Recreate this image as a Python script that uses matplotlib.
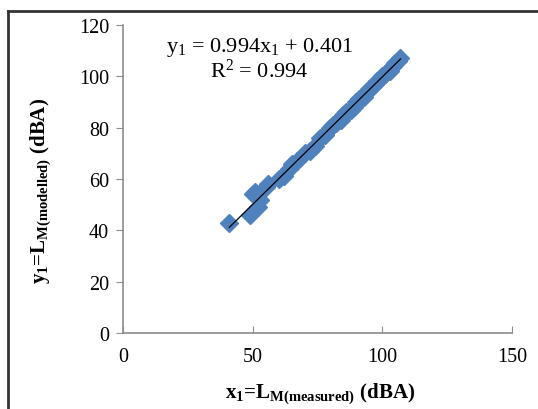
import numpy as np
import matplotlib.pyplot as plt
from matplotlib.lines import Line2D

plt.rcParams['font.family'] = ['Liberation Serif', 'DejaVu Serif']
plt.rcParams['mathtext.fontset'] = 'custom'
plt.rcParams['mathtext.rm'] = 'Liberation Serif'
plt.rcParams['mathtext.it'] = 'Liberation Serif:italic'
plt.rcParams['mathtext.bf'] = 'Liberation Serif:bold'

# measured vs modelled levels (dBA)
measured = [41, 49, 50, 51, 52, 53, 55, 56, 60, 62, 64, 65, 67, 70, 72, 74, 76, 78,
            80, 81, 82, 84, 85, 86, 88, 89, 90, 91, 92, 93, 94, 95, 96, 97, 98, 99,
            100, 101, 102, 103, 104, 105, 106, 107]
modelled = [43, 46, 54, 55, 49, 52, 57, 58, 60, 61, 64, 66, 67, 70, 71, 73, 76, 77,
            80, 81, 82, 83, 85, 86, 87, 88, 90, 91, 92, 92, 94, 95, 96, 97, 98, 99,
            100, 101, 102, 102, 104, 105, 106, 107]
slope = 0.994
intercept = 0.401
r2 = 0.994

x_ticks = [0, 50, 100, 150]
y_ticks = [0, 20, 40, 60, 80, 100, 120]

fig = plt.figure(figsize=(5.38, 4.10), dpi=100)
ax = fig.add_axes([0.2286, 0.1854, 0.7231, 0.7512])

ax.plot(measured, modelled, linestyle='none', marker='D', markersize=9,
        color='#4F81BD', markeredgecolor='#4F81BD')

xs = np.array([min(measured), max(measured)])
ax.plot(xs, slope * xs + intercept, color='black', linewidth=0.9)

ax.set_xlim(0, 150)
ax.set_ylim(0, 120)
ax.set_xticks(x_ticks)
ax.set_yticks(y_ticks)
for s in ['top', 'right']:
    ax.spines[s].set_visible(False)
for s in ['left', 'bottom']:
    ax.spines[s].set_color('#8c8c8c')
    ax.spines[s].set_linewidth(1.2)
ax.tick_params(axis='x', direction='in', length=5, color='#8c8c8c', labelsize=14.5, pad=10)
ax.tick_params(axis='y', direction='out', length=5, color='#8c8c8c', labelsize=14.5, pad=5)

ax.text(52.5, 111.5, 'y$_1$ = %.3fx$_1$ + %.3f' % (slope, intercept), ha='center', va='center', fontsize=16)
ax.text(52.5, 102.3, 'R$^2$ = %.3f' % r2, ha='center', va='center', fontsize=16)

fig.text(0.595, 0.04, r'x$_\mathbf{1}$=L$_\mathbf{M(measured)}$ (dBA)', ha='center', va='center',
         fontsize=15, fontweight='bold')
fig.text(0.075, 0.535, r'y$_\mathbf{1}$=L$_\mathbf{M(modelled)}$ (dBA)', ha='center', va='center',
         fontsize=15, fontweight='bold', rotation=90)

# frame around the figure (only top and left visible)
bx, by = 8 / 538, 1 - 12 / 410
fig.add_artist(Line2D([bx, bx], [0, by], color='#333333', linewidth=2, transform=fig.transFigure))
fig.add_artist(Line2D([bx, 1], [by, by], color='#333333', linewidth=2, transform=fig.transFigure))

fig.savefig('out.png', dpi=100)
